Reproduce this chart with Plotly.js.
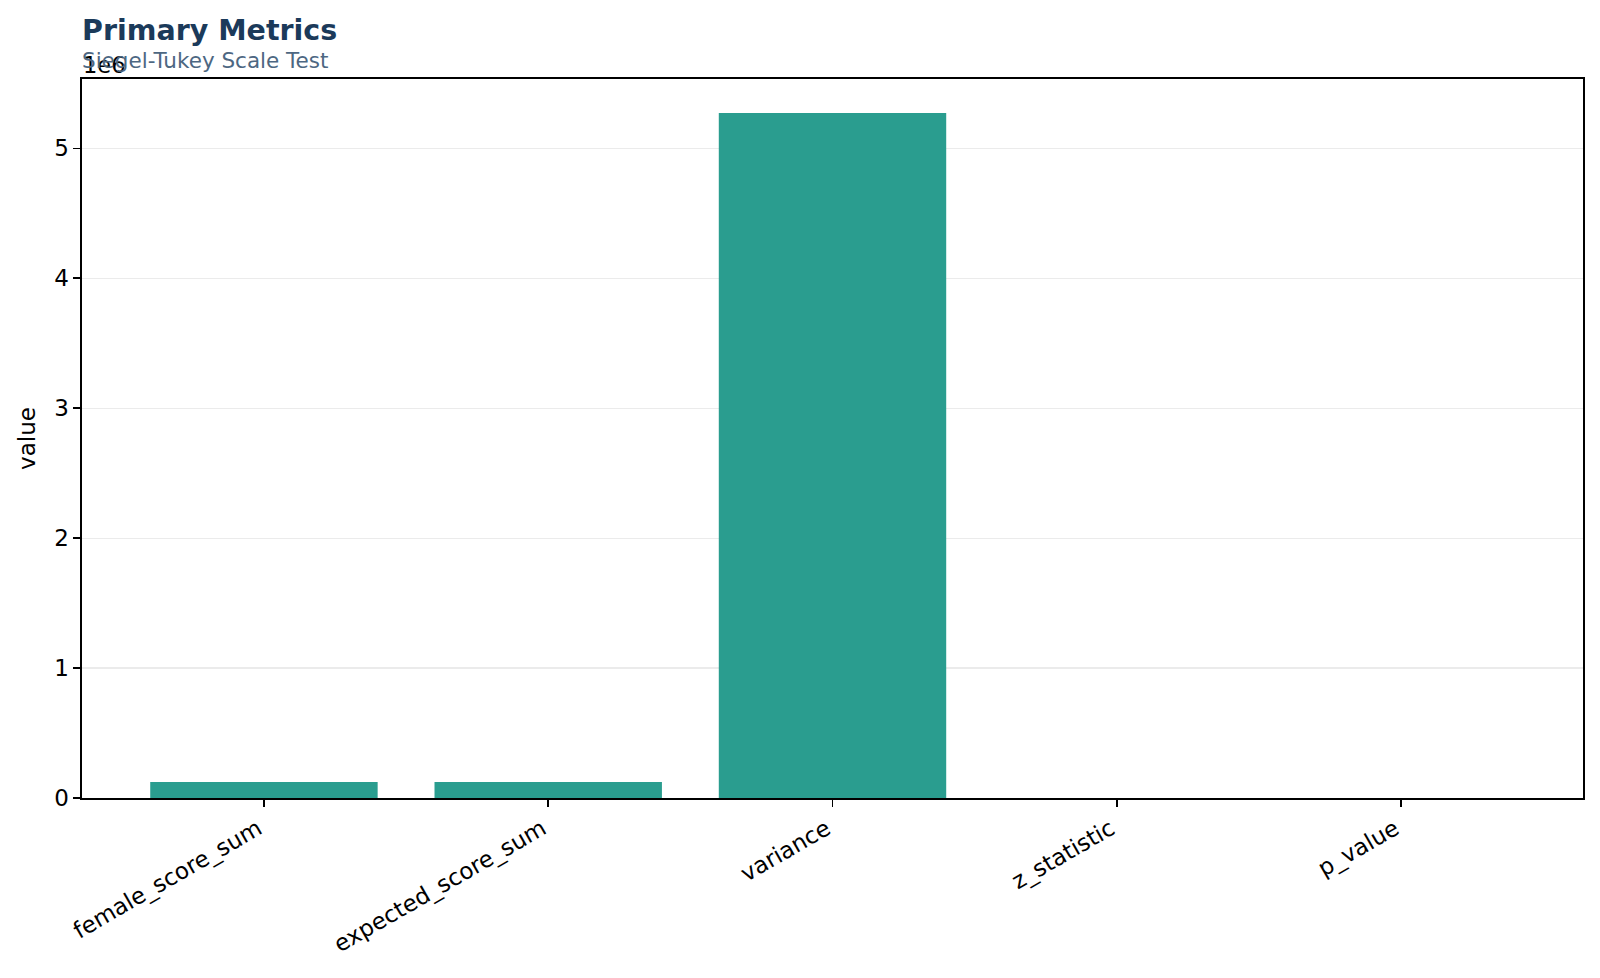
<!DOCTYPE html>
<html>
<head>
<meta charset="utf-8">
<script src="https://cdn.plot.ly/plotly-3.0.1.min.js"></script>
<style>
  html, body { margin: 0; padding: 0; background: #fff; }
  #plot { width: 1600px; height: 978px; }
</style>
</head>
<body>
<div id="plot"></div>
<script>
// Primary metrics of the Siegel-Tukey scale test
var metrics = ['female_score_sum', 'expected_score_sum', 'variance', 'z_statistic', 'p_value'];
var values = [123000, 123000, 5272000, -1.1, 0.27];

var yTickVals = [0, 1e6, 2e6, 3e6, 4e6, 5e6];
var yTickText = ['0', '1', '2', '3', '4', '5'];

(function (document, window) {
    document.addEventListener("DOMContentLoaded", function () {
        var font = 'DejaVu Sans, Liberation Sans, sans-serif';

        var trace = {
            type: 'bar',
            x: metrics,
            y: values,
            width: 0.8,
            marker: { color: '#2a9d8f', line: { width: 0 } },
            hoverinfo: 'x+y'
        };

        var layout = {
            width: 1600,
            height: 978,
            margin: { l: 82, r: 17, t: 79, b: 180 },
            paper_bgcolor: '#ffffff',
            plot_bgcolor: '#ffffff',
            showlegend: false,
            font: { family: font, size: 23, color: '#000' },
            title: {
                text: '<b>Primary Metrics</b>',
                font: { family: font, size: 28.5, color: '#1b3a5a' },
                xref: 'paper', x: 0, xanchor: 'left',
                yref: 'container', y: 1 - 30 / 978, yanchor: 'middle',
                pad: { l: 0, r: 0, t: 0, b: 0 }
            },
            xaxis: {
                range: [-0.64, 4.64],
                tickangle: -30,
                ticks: 'outside',
                ticklen: 7,
                tickwidth: 1.6,
                tickcolor: '#000',
                tickfont: { family: font, size: 23, color: '#000' },
                ticklabelshift: -6,
                showgrid: false,
                zeroline: false,
                showline: true,
                linecolor: '#000',
                linewidth: 1.6,
                mirror: true
            },
            yaxis: {
                range: [0, 5.534e6],
                tickvals: yTickVals,
                ticktext: yTickText,
                ticks: 'outside',
                ticklen: 7,
                tickwidth: 1.6,
                tickcolor: '#000',
                tickfont: { family: font, size: 23, color: '#000' },
                showgrid: true,
                gridcolor: '#ebebeb',
                gridwidth: 1.3,
                zeroline: false,
                showline: true,
                linecolor: '#000',
                linewidth: 1.6,
                mirror: true,
                title: { text: 'value', font: { family: font, size: 23, color: '#000' }, standoff: 12 }
            },
            annotations: [
                {
                    text: '1e6',
                    xref: 'paper', yref: 'paper', x: 0, y: 1,
                    xanchor: 'left', yanchor: 'middle', yshift: 14, xshift: -1,
                    showarrow: false,
                    font: { family: font, size: 22.5, color: '#000' }
                },
                {
                    text: 'Siegel-Tukey Scale Test',
                    xref: 'paper', yref: 'paper', x: 0, y: 1,
                    xanchor: 'left', yanchor: 'middle', yshift: 18.5, xshift: -2,
                    showarrow: false,
                    font: { family: font, size: 21.5, color: '#4d6782' }
                }
            ]
        };

        Plotly.newPlot('plot', [trace], layout, { displayModeBar: false, staticPlot: true });
    });
})(document, window);
</script>
</body>
</html>
